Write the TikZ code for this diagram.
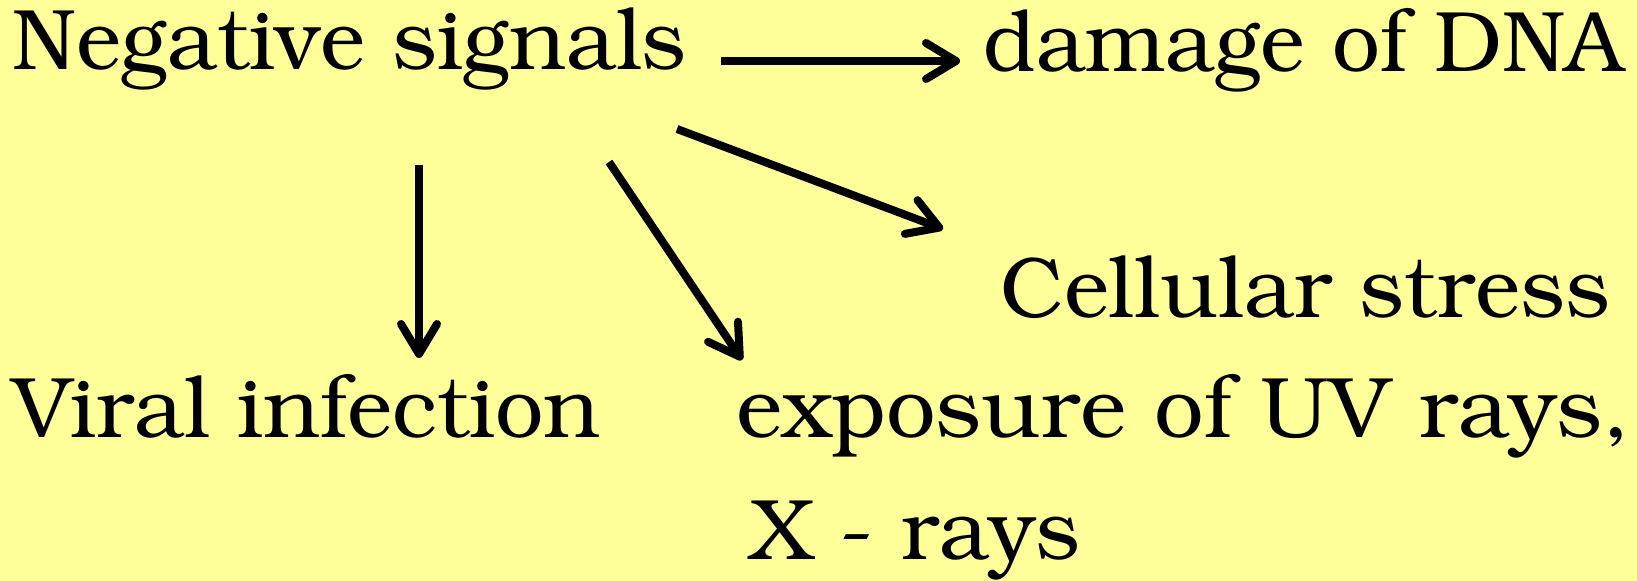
\documentclass[tikz,border=0pt]{standalone}
\usepackage[T1]{fontenc}
\usepackage{bookman}
\usetikzlibrary{arrows.meta}
\definecolor{paper}{RGB}{255,255,153}
\tikzset{
  lbl/.style={anchor=base west, inner sep=0pt, font=\fontsize{43}{51}\selectfont},
  arr/.style={line width=4pt, -{Straight Barb[length=15pt,width=18pt,round]}}
}
\begin{document}
\begin{tikzpicture}[x=0.5pt,y=-0.5pt]
  \fill[paper] (0,0) rectangle (1637,581);
  \useasboundingbox (0,0) rectangle (1637,581);
  % labels
  \node[lbl] (neg) at (12,70) {Negative signals};
  \node[lbl] (dna) at (983,72) {\scalebox{0.99}[1]{damage of DNA}};
  \node[lbl] (stress) at (1000,318) {Cellular stress};
  \node[lbl] (viral) at (12,438) {Viral infection};
  \node[lbl] (uv) at (736,438) {\scalebox{1.025}[1]{exposure of UV rays,}};
  \node[lbl] (xray) at (750,560) {X - rays};
  % arrow end points
  \coordinate (a1s) at (721,61);   \coordinate (a1e) at (960,61);
  \coordinate (a2s) at (677,129);  \coordinate (a2e) at (943,229);
  \coordinate (a3s) at (419,165);  \coordinate (a3e) at (419,358);
  \coordinate (a4s) at (609,162);  \coordinate (a4e) at (742,360);
  \draw[arr] (a1s) -- (a1e);
  \draw[arr] (a2s) -- (a2e);
  \draw[arr] (a3s) -- (a3e);
  \draw[arr] (a4s) -- (a4e);
\end{tikzpicture}
\end{document}
